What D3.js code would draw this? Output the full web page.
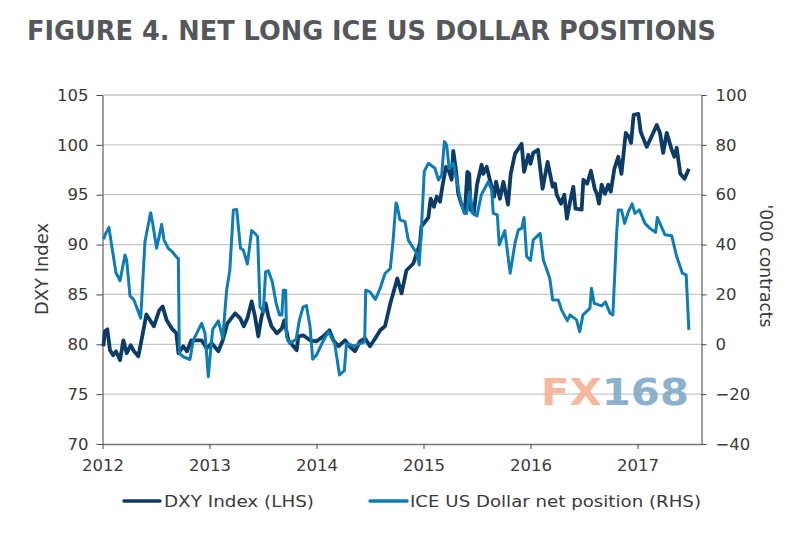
<!DOCTYPE html>
<html>
<head>
<meta charset="utf-8">
<script src="https://cdn.jsdelivr.net/npm/d3@7"></script>
<style>
  html, body { margin: 0; padding: 0; background: #fff; }
  text { font-family: "DejaVu Sans", Verdana, sans-serif; fill: #3a3a3a; }
</style>
</head>
<body>
<div id="chart"></div>
<script>
// Plot constants
const WIDTH = 810;
const HEIGHT = 551;
const margin = { left: 102.5, right: 701.5, top: 95, bottom: 444 };

// Axis labels
const yearTicks = [2012, 2013, 2014, 2015, 2016, 2017];
const leftTicks = [70, 75, 80, 85, 90, 95, 100, 105];
const rightTicks = [-40, -20, 0, 20, 40, 60, 80, 100];

// DXY Index (LHS)
const dxyYears = [
  2012.008, 2012.023, 2012.045, 2012.07, 2012.1, 2012.126, 2012.164, 2012.195, 2012.226, 2012.263,
  2012.294, 2012.335, 2012.375, 2012.41, 2012.45, 2012.48, 2012.53, 2012.562, 2012.6, 2012.646,
  2012.69, 2012.71, 2012.755, 2012.79, 2012.83, 2012.88, 2012.927, 2012.973, 2013.02, 2013.083,
  2013.124, 2013.167, 2013.24, 2013.287, 2013.32, 2013.354, 2013.394, 2013.425, 2013.456, 2013.487,
  2013.525, 2013.55, 2013.58, 2013.63, 2013.676, 2013.7, 2013.737, 2013.815, 2013.83, 2013.875,
  2013.94, 2014.0, 2014.064, 2014.12, 2014.157, 2014.205, 2014.266, 2014.31, 2014.36, 2014.406,
  2014.453, 2014.5, 2014.55, 2014.595, 2014.64, 2014.69, 2014.755, 2014.795, 2014.84, 2014.905,
  2014.967, 2014.98, 2015.045, 2015.067, 2015.098, 2015.123, 2015.154, 2015.179, 2015.21, 2015.24,
  2015.263, 2015.278, 2015.303, 2015.325, 2015.356, 2015.387, 2015.41, 2015.428, 2015.44, 2015.47,
  2015.5, 2015.543, 2015.559, 2015.59, 2015.62, 2015.66, 2015.678, 2015.715, 2015.746, 2015.79,
  2015.815, 2015.855, 2015.917, 2015.94, 2015.98, 2016.0, 2016.026, 2016.07, 2016.113, 2016.16,
  2016.207, 2016.229, 2016.245, 2016.285, 2016.316, 2016.34, 2016.37, 2016.4, 2016.42, 2016.478,
  2016.494, 2016.53, 2016.565, 2016.6, 2016.62, 2016.64, 2016.665, 2016.696, 2016.727, 2016.75,
  2016.784, 2016.82, 2016.85, 2016.89, 2016.92, 2016.94, 2016.964, 2017.008, 2017.03, 2017.086,
  2017.13, 2017.18, 2017.21, 2017.24, 2017.273, 2017.32, 2017.344, 2017.366, 2017.4, 2017.44,
  2017.48
];
const dxyValues = [
  79.8, 81.3, 81.5, 79.4, 78.9, 79.3, 78.4, 80.4, 79.1, 79.9,
  79.3, 78.8, 81, 83, 82.3, 81.8, 83.4, 83.8, 82.4, 81.6,
  81.1, 79.1, 79.8, 79.3, 80.4, 80.4, 80.4, 79.6, 80.1, 79.3,
  80.4, 82.1, 83.1, 82.6, 81.8, 82.6, 84.3, 82.8, 80.8, 82.8,
  84.1, 82.8, 81.8, 81.1, 81.6, 82.4, 80.4, 79.4, 80.8, 80.9,
  80.4, 80.3, 80.8, 81.4, 80.4, 79.8, 80.4, 79.8, 79.3, 80.3,
  80.6, 79.8, 80.6, 81.4, 81.8, 84.1, 86.6, 85.1, 87.4, 88.1,
  90.1, 91.8, 92.7, 94.6, 93.8, 94.8, 94.3, 96, 97.8, 97.3,
  96.5, 99.4, 97.5, 95.1, 94, 93.3, 97.3, 97.1, 93.5, 93.1,
  96, 98, 97.1, 97.8, 96.5, 94.8, 96.3, 94.6, 96.3, 94,
  97.1, 99.1, 100.1, 97.3, 99, 98.1, 99.2, 99.5, 95.6, 98.3,
  95.8, 96.1, 95, 94.1, 95, 92.6, 94.3, 95.8, 93.6, 93.5,
  96.5, 96.1, 97.4, 95.6, 95.1, 94.1, 96, 95.1, 96, 95.3,
  97.6, 98.8, 97.1, 101.2, 100.8, 100.2, 103, 103.1, 101.3, 99.8,
  100.8, 102, 101.2, 99.2, 101.2, 99.5, 98.8, 99.7, 97.1, 96.6,
  97.6
];

// ICE US Dollar net position (RHS)
const iceYears = [
  2012.01, 2012.03, 2012.06, 2012.085, 2012.126, 2012.164, 2012.21, 2012.226, 2012.257, 2012.294,
  2012.357, 2012.397, 2012.45, 2012.469, 2012.506, 2012.553, 2012.575, 2012.615, 2012.646, 2012.702,
  2012.709, 2012.718, 2012.755, 2012.817, 2012.849, 2012.88, 2012.927, 2012.958, 2012.989, 2013.011,
  2013.03, 2013.083, 2013.124, 2013.16, 2013.19, 2013.223, 2013.254, 2013.29, 2013.316, 2013.354,
  2013.394, 2013.425, 2013.45, 2013.472, 2013.503, 2013.524, 2013.55, 2013.587, 2013.623, 2013.654,
  2013.676, 2013.69, 2013.712, 2013.72, 2013.75, 2013.81, 2013.84, 2013.875, 2013.906, 2013.94,
  2013.964, 2014.0, 2014.05, 2014.11, 2014.17, 2014.215, 2014.26, 2014.28, 2014.35, 2014.45,
  2014.46, 2014.5, 2014.55, 2014.595, 2014.64, 2014.69, 2014.716, 2014.743, 2014.755, 2014.78,
  2014.827, 2014.858, 2014.936, 2014.96, 2014.98, 2015.007, 2015.045, 2015.107, 2015.14, 2015.17,
  2015.195, 2015.216, 2015.24, 2015.28, 2015.34, 2015.38, 2015.403, 2015.434, 2015.46, 2015.5,
  2015.54, 2015.605, 2015.637, 2015.652, 2015.69, 2015.708, 2015.76, 2015.81, 2015.855, 2015.886,
  2015.917, 2015.94, 2015.964, 2016.0, 2016.026, 2016.09, 2016.12, 2016.18, 2016.207, 2016.26,
  2016.29, 2016.344, 2016.37, 2016.43, 2016.46, 2016.49, 2016.555, 2016.57, 2016.596, 2016.665,
  2016.7, 2016.744, 2016.77, 2016.805, 2016.82, 2016.85, 2016.88, 2016.915, 2016.95, 2016.976,
  2017.017, 2017.07, 2017.116, 2017.17, 2017.185, 2017.257, 2017.32, 2017.366, 2017.42, 2017.455,
  2017.48
];
const iceValues = [
  42.1, 44.5, 46.9, 39.8, 28.7, 25.5, 35.8, 33.8, 19.4, 17.8,
  10.5, 41.2, 52.8, 48.5, 38.5, 48.1, 41.8, 38.5, 37.4, 34.5,
  34.4, -3.6, -5, -6.1, 1.7, 4.4, 8.4, 4.4, -13, -2.3,
  6, 9.4, 2.4, 21.7, 29.8, 53.9, 54.1, 38.5, 37.8, 32.2,
  45.6, 44.5, 43.2, 15, 13, 29, 29.5, 25, 16.4, 11.7,
  11.7, 21.7, 21.7, 3, 0.3, 2, 9.7, 15, 15.5, 7,
  -6, -4.3, 0.3, 5, 0.3, -12.3, -10.6, 0.3, -0.7, 1,
  21.7, 21, 18, 22.4, 28.4, 30.4, 41.8, 56.7, 55.5, 49.9,
  49.2, 41.8, 36.5, 31.8, 45.9, 69.3, 72.6, 70.6, 65.9, 67.9,
  81.3, 80, 70.6, 72.6, 59, 52.5, 52.5, 61.2, 52.5, 51.5,
  59.9, 65.2, 61.9, 52.5, 51.9, 39.8, 45.6, 28.5, 40.5, 45.9,
  46.5, 50.9, 35.2, 33.6, 41.9, 44.5, 33.8, 26.5, 17.8, 17.8,
  13.8, 9.5, 11.8, 9.8, 5, 11.8, 14.4, 22.5, 16.4, 15.4,
  17, 12.4, 11.8, 44.5, 53.9, 53.9, 48.5, 53.2, 56.3, 52.5,
  53.9, 48.5, 46.5, 44.9, 50.9, 43.9, 43.5, 35.2, 28.5, 27.8,
  5.8
];

const svg = d3.select("#chart")
  .append("svg")
  .attr("width", WIDTH)
  .attr("height", HEIGHT);

// Scales
const x = d3.scaleLinear().domain([2012, 2012 + (margin.right - margin.left) / 107]).range([margin.left, margin.right]);
const yLeft = d3.scaleLinear().domain([70, 105]).range([margin.bottom, margin.top]);
const yRight = d3.scaleLinear().domain([-40, 100]).range([margin.bottom, margin.top]);

// Title
svg.append("text")
  .attr("x", 27)
  .attr("y", 39.5)
  .attr("font-size", "26px")
  .attr("font-weight", "bold")
  .attr("textLength", 689)
  .attr("lengthAdjust", "spacingAndGlyphs")
  .style("fill", "#54575b")
  .text("FIGURE 4. NET LONG ICE US DOLLAR POSITIONS");

// Gridlines
svg.append("g")
  .selectAll("line")
  .data(leftTicks.slice(1))
  .join("line")
  .attr("x1", margin.left)
  .attr("x2", margin.right)
  .attr("y1", d => yLeft(d))
  .attr("y2", d => yLeft(d))
  .attr("stroke", "#c6c6c6")
  .attr("stroke-width", 1.3);

// Axes
function styleAxis(sel) {
  sel.selectAll("path").attr("stroke", "#777").attr("stroke-width", 1.4);
  sel.selectAll("line").attr("stroke", "#444");
  sel.selectAll("text").attr("font-size", "16.5px").style("font-family", '"DejaVu Sans", Verdana, sans-serif');
}

svg.append("g")
  .attr("transform", `translate(${margin.left},0)`)
  .call(d3.axisLeft(yLeft).tickValues(leftTicks).tickSize(6).tickSizeOuter(0).tickPadding(8))
  .call(styleAxis);

svg.append("g")
  .attr("transform", `translate(${margin.right},0)`)
  .call(d3.axisRight(yRight).tickValues(rightTicks).tickSize(5).tickSizeOuter(0).tickPadding(9))
  .call(styleAxis);

svg.append("g")
  .attr("transform", `translate(0,${margin.bottom})`)
  .call(d3.axisBottom(x).tickValues(yearTicks).tickFormat(d3.format("d")).tickSize(5).tickSizeOuter(0).tickPadding(10))
  .call(styleAxis);

// Axis titles
svg.append("text")
  .attr("transform", "translate(48,269) rotate(-90)")
  .attr("text-anchor", "middle")
  .attr("font-size", "17px")
  .attr("textLength", 92)
  .attr("lengthAdjust", "spacingAndGlyphs")
  .text("DXY Index");

svg.append("text")
  .attr("transform", "translate(760,266) rotate(90)")
  .attr("text-anchor", "middle")
  .attr("font-size", "17px")
  .attr("textLength", 123)
  .attr("lengthAdjust", "spacingAndGlyphs")
  .text("'000 contracts");

// Series
const dxyLine = d3.line().x((d, i) => x(dxyYears[i])).y(d => yLeft(d));
const iceLine = d3.line().x((d, i) => x(iceYears[i])).y(d => yRight(d));

svg.append("path")
  .attr("d", dxyLine(dxyValues))
  .attr("fill", "none")
  .attr("stroke", "#0c3c66")
  .attr("stroke-width", 3.8)
  .attr("stroke-linejoin", "round");

svg.append("path")
  .attr("d", iceLine(iceValues))
  .attr("fill", "none")
  .attr("stroke", "#0f7db4")
  .attr("stroke-width", 3)
  .attr("stroke-linejoin", "round");

// Watermark
const mark = svg.append("text")
  .attr("x", 541)
  .attr("y", 405)
  .attr("font-size", "37px")
  .attr("font-weight", "bold")
  .attr("textLength", 148)
  .attr("lengthAdjust", "spacingAndGlyphs")
  .attr("opacity", 0.9);
mark.append("tspan").style("fill", "#f6b195").text("FX");
mark.append("tspan").style("fill", "#7fa9c8").text("168");

// Legend
const legend = [
  { name: "DXY Index (LHS)", color: "#0c3c66", x1: 124, x2: 160, tx: 164, len: 150 },
  { name: "ICE US Dollar net position (RHS)", color: "#0f7db4", x1: 370, x2: 407, tx: 410, len: 291 },
];

legend.forEach(d => {
  svg.append("line")
    .attr("x1", d.x1)
    .attr("x2", d.x2)
    .attr("y1", 501)
    .attr("y2", 501)
    .attr("stroke", d.color)
    .attr("stroke-width", 3.4)
    .attr("stroke-linecap", "round");
  svg.append("text")
    .attr("x", d.tx)
    .attr("y", 507)
    .attr("font-size", "16.5px")
    .attr("textLength", d.len)
    .attr("lengthAdjust", "spacingAndGlyphs")
    .text(d.name);
});
</script>
</body>
</html>
